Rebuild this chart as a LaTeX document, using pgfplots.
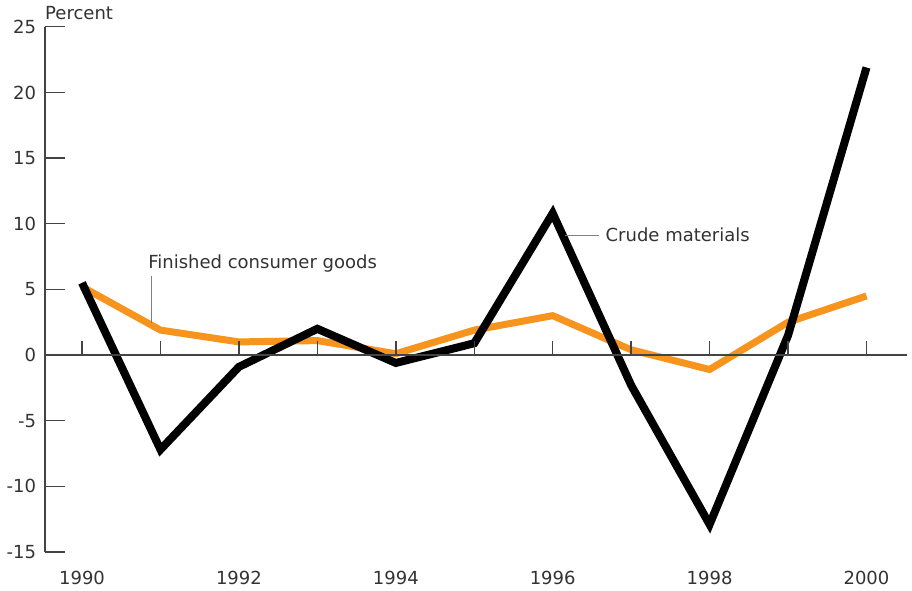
\documentclass[border=0pt]{standalone}
\usepackage{fontspec}
\setmainfont{DejaVu Sans}
\usepackage{pgfplots}
\pgfplotsset{compat=1.18}
\definecolor{orng}{HTML}{F7941D}
\definecolor{txt}{HTML}{333333}
\definecolor{axc}{HTML}{444444}
\begin{document}
\begin{tikzpicture}
\begin{axis}[
  scale only axis, width=430.5pt, height=262.5pt,
  xmin=-0.47, xmax=10.51, ymin=-15, ymax=25,
  clip=false,
  axis x line=none,
  axis y line*=left,
  y axis line style={draw=axc, line width=0.7pt, -},
  ytick={-15,-10,-5,0,5,10,15,20,25},
  yticklabels={-15,-10,-5,0,5,10,15,20,25},
  ytick pos=left, tick align=inside, major tick length=10pt,
  y tick style={draw=axc, line width=0.7pt},
  yticklabel style={font=\fontsize{9}{11}\selectfont, text=txt, xshift=-1pt},
]
% x = year - 1990
\addplot[orng, line width=3.5pt, line join=miter] coordinates {
 (0,5.2) (1,1.9) (2,1.0) (3,1.1) (4,0.1) (5,1.9)
 (6,3.0) (7,0.4) (8,-1.1) (9,2.5) (10,4.5)};
\addplot[black, line width=4pt, line join=miter] coordinates {
 (0,5.5) (1,-7.2) (2,-0.9) (3,2.0) (4,-0.6) (5,0.9)
 (6,10.8) (7,-2.3) (8,-12.9) (9,1.5) (10,21.9)};
\draw[axc, line width=0.7pt] (axis cs:-0.47,0) -- (axis cs:10.51,0);
\pgfplotsinvokeforeach{0,...,10}{
  \draw[axc, line width=0.7pt] (axis cs:#1,0) -- (axis cs:#1,1.07);
}
\node[font=\fontsize{9}{11}\selectfont, text=txt, anchor=base] at (axis cs:0,-15) [yshift=-16pt] {1990};
\node[font=\fontsize{9}{11}\selectfont, text=txt, anchor=base] at (axis cs:2,-15) [yshift=-16pt] {1992};
\node[font=\fontsize{9}{11}\selectfont, text=txt, anchor=base] at (axis cs:4,-15) [yshift=-16pt] {1994};
\node[font=\fontsize{9}{11}\selectfont, text=txt, anchor=base] at (axis cs:6,-15) [yshift=-16pt] {1996};
\node[font=\fontsize{9}{11}\selectfont, text=txt, anchor=base] at (axis cs:8,-15) [yshift=-16pt] {1998};
\node[font=\fontsize{9}{11}\selectfont, text=txt, anchor=base] at (axis cs:10,-15) [yshift=-16pt] {2000};
\node[font=\fontsize{9}{11}\selectfont, text=txt, anchor=base west] at (rel axis cs:0,1) [xshift=-3.5pt, yshift=3.5pt] {Percent};
\node[font=\fontsize{9}{11}\selectfont, text=txt, anchor=west, inner sep=0pt] at (axis cs:0.84,7.0) {Finished consumer goods};
\draw[gray, line width=0.4pt] (axis cs:0.89,6.02) -- (axis cs:0.89,2.44);
\node[font=\fontsize{9}{11}\selectfont, text=txt, anchor=west, inner sep=0pt] at (axis cs:6.67,9.14) {Crude materials};
\draw[gray, line width=0.4pt] (axis cs:6.16,9.14) -- (axis cs:6.59,9.14);
\fill[opacity=0] (axis cs:-1.0,-17.82) rectangle (axis cs:-0.99,-17.8);
\fill[opacity=0] (axis cs:10.58,26.98) rectangle (axis cs:10.57,26.96);
\end{axis}
\end{tikzpicture}
\end{document}
